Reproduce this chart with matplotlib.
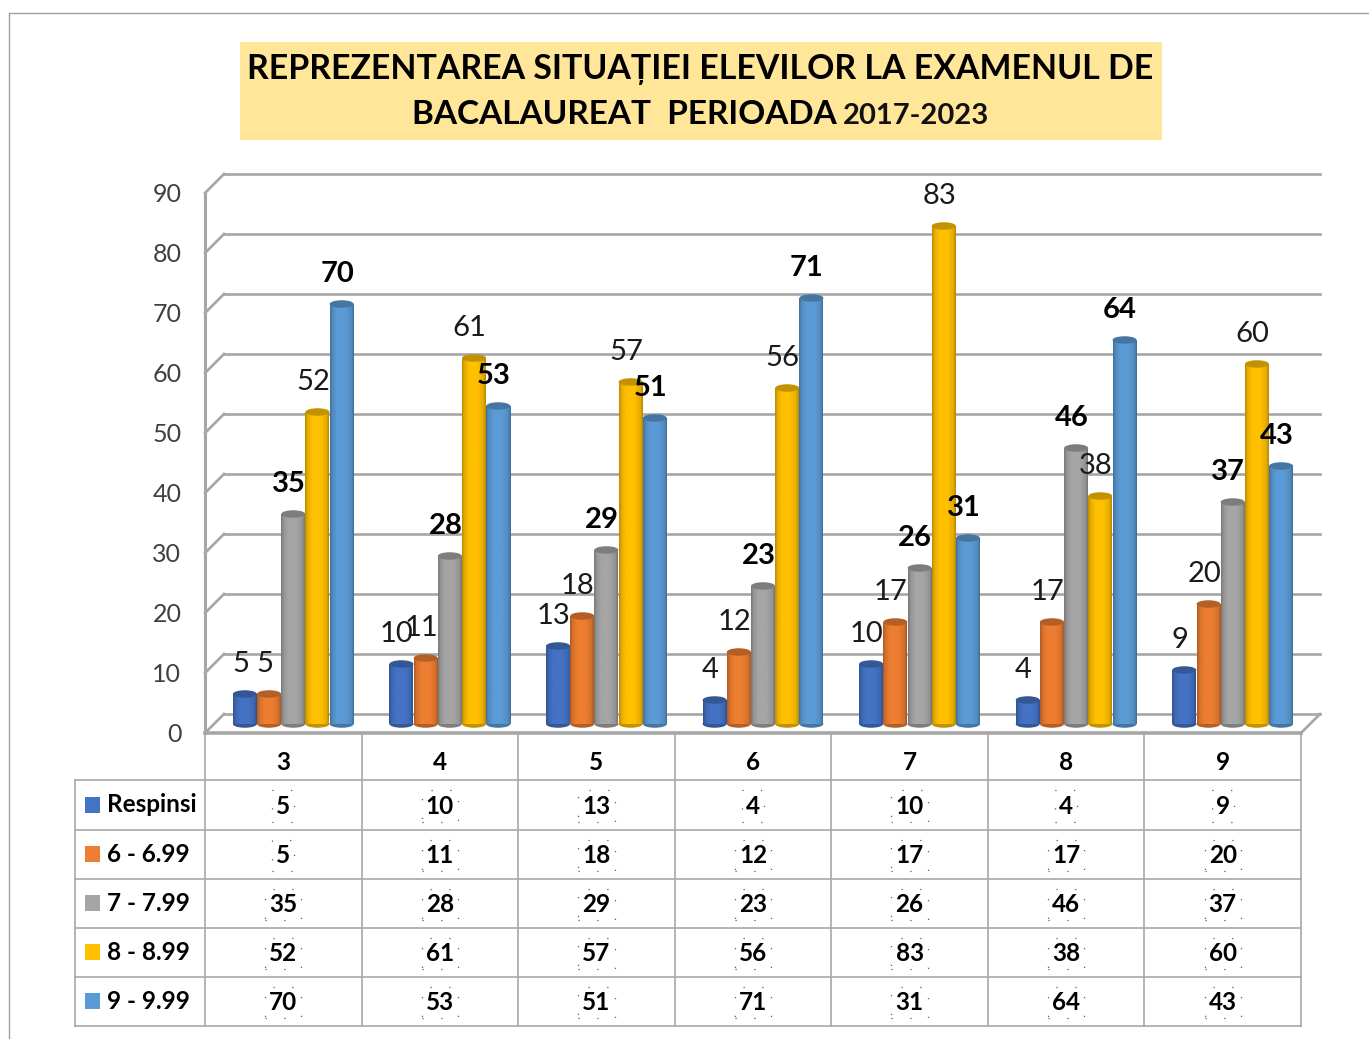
import numpy as np
import matplotlib
matplotlib.use("Agg")
import matplotlib.pyplot as plt
from matplotlib.patches import Ellipse, Rectangle
from matplotlib.transforms import Affine2D
from matplotlib.colors import to_rgb

plt.rcParams['font.family'] = ['Lato', 'DejaVu Sans']

categories = ['3', '4', '5', '6', '7', '8', '9']
series_names = ['Respinsi', '6 - 6.99', '7 - 7.99', '8 - 8.99', '9 - 9.99']
respinsi = [5, 10, 13, 4, 10, 4, 9]
s6 = [5, 11, 18, 12, 17, 17, 20]
s7 = [35, 28, 29, 23, 26, 46, 37]
s8 = [52, 61, 57, 56, 83, 38, 60]
s9 = [70, 53, 51, 71, 31, 64, 43]
all_series = [respinsi, s6, s7, s8, s9]
colors = ['#4472C4', '#ED7D31', '#A5A5A5', '#FFC000', '#5B9BD5']
bold_series = [False, False, True, False, True]
yticks = list(range(0, 100, 10))

W, H = 1369, 1039
fig = plt.figure(figsize=(W / 100, H / 100), dpi=100, facecolor='white')

pg = fig.add_axes([0, 0, 1, 1], zorder=0)
pg.set_xlim(0, W); pg.set_ylim(H, 0); pg.axis('off')
FR = '#A0A0A0'
pg.plot([9, 9], [14, H], color=FR, lw=1)
pg.plot([9, W], [13, 13], color=FR, lw=1)
pg.add_patch(Rectangle((240, 42), 922, 98, fc='#FFE699', ec='none'))
pg.text(700.5, 69, 'REPREZENTAREA SITUAȚIEI ELEVILOR LA EXAMENUL DE', ha='center', va='center',
        fontsize=24.4, fontweight='bold', color='black')
pg.text(624, 115, 'BACALAUREAT  PERIOADA', ha='center', va='center', fontsize=24, fontweight='bold', color='black')
pg.text(915.5, 116, '2017-2023', ha='center', va='center', fontsize=21, fontweight='bold', color='#111111')

L, R, T, B = 205, 1301, 193, 733
ax = fig.add_axes([L / W, 1 - B / H, (R - L) / W, (B - T) / H], zorder=2)
ax.patch.set_alpha(0)
ax.set_xlim(-0.5, 6.5); ax.set_ylim(0, 90)
for s in ax.spines.values():
    s.set_visible(False)
ax.set_xticks([])
ax.set_yticks(yticks)
ax.tick_params(axis='y', length=0, pad=17, labelsize=18, labelcolor='#404040')

px_x = (R - L) / 7
tr_back = ax.transData + Affine2D().translate(19, 19)
tr_mid = ax.transData + Affine2D().translate(10, 9)

GRID = '#A6A6A6'
for v in yticks:
    ax.plot([-0.5, 6.5], [v, v], transform=tr_back, color=GRID, lw=1.9, clip_on=False, zorder=1)
    ax.plot([-0.5, -0.5 + 19 / px_x], [v, v + 19 / 6], color=GRID, lw=1.9, clip_on=False, zorder=1)
ax.plot([-0.5, -0.5], [0, 90], color=GRID, lw=2.2, clip_on=False, zorder=2)
ax.plot([-0.5, 6.5], [0, 0], color=GRID, lw=2.6, clip_on=False, zorder=2)
ax.plot([6.5, 6.5 + 19 / px_x], [0, 19 / 6], color=GRID, lw=1.9, clip_on=False, zorder=2)

bw = 24 / px_x
eh = 1.25


def shade(col):
    c = np.array(to_rgb(col))
    t = np.linspace(0, 1, 32)
    f = np.interp(t, [0, .1, .3, .65, .9, 1], [.74, .9, 1.0, 1.0, .9, .72])
    return (c[None, None, :] * f[None, :, None]).clip(0, 1)


z = 5
for k, vals in enumerate(all_series):
    col = colors[k]
    dark = tuple(np.array(to_rgb(col)) * .76)
    off = (k - 2) * 24.2 / px_x
    for i, v in enumerate(vals):
        x = i + off
        ax.add_patch(Ellipse((x, 0), bw, eh, fc=dark, ec='none', transform=tr_mid, clip_on=False, zorder=z))
        ax.bar(x, v, bw, color=col, transform=tr_mid, clip_on=False, zorder=z)
        ax.imshow(shade(col), extent=(x - bw / 2, x + bw / 2, 0, v), aspect='auto',
                  transform=tr_mid, clip_on=False, zorder=z + .1, interpolation='bilinear')
        ax.add_patch(Ellipse((x, v), bw, eh, fc=dark, ec='none', transform=tr_mid, clip_on=False, zorder=z + .2))
    z += 1
ax.set_xlim(-0.5, 6.5); ax.set_ylim(0, 90)

for k, vals in enumerate(all_series):
    off = (k - 2) * 24.2 / px_x
    for i, v in enumerate(vals):
        ax.annotate(str(v), xy=(i + off, v), xycoords=tr_mid, xytext=(-4.5 * .72, 30.5 * .72),
                    textcoords='offset points', ha='center', va='center', fontsize=21,
                    fontweight='bold' if bold_series[k] else 'normal',
                    color='black' if bold_series[k] else '#1A1A1A', zorder=30, annotation_clip=False)

row_y = [780, 830, 879, 928, 977, 1026]
col_x = [L + i * px_x for i in range(8)]
TB = '#A8A8A8'
for y in row_y:
    pg.plot([75, R], [y, y], color=TB, lw=1.2)
for x in col_x:
    pg.plot([x, x], [733, 1026], color=TB, lw=1.2)
pg.plot([75, 75], [780, 1026], color=TB, lw=1.2)

hdr_y = 763
for i, c in enumerate(categories):
    pg.text(L + (i + .5) * px_x, hdr_y, c, ha='center', va='center', fontsize=17.5, fontweight='bold', color='black')
for k, vals in enumerate(all_series):
    cy = (row_y[k] + row_y[k + 1]) / 2
    pg.add_patch(Rectangle((85, cy - 8.5), 15, 16, fc=colors[k], ec='none'))
    pg.text(107, cy, series_names[k], ha='left', va='center', fontsize=17.5, fontweight='bold', color='black')
    for i, v in enumerate(vals):
        pg.text(L + (i + .5) * px_x, cy + 1, str(v), ha='center', va='center', fontsize=17.5, fontweight='bold',
                color='black',
                bbox=dict(fc='none', ec='#2F5FD0', lw=.9, ls=(0, (1, 14)), pad=3))

fig.savefig('out.png', dpi=100, facecolor='white')
